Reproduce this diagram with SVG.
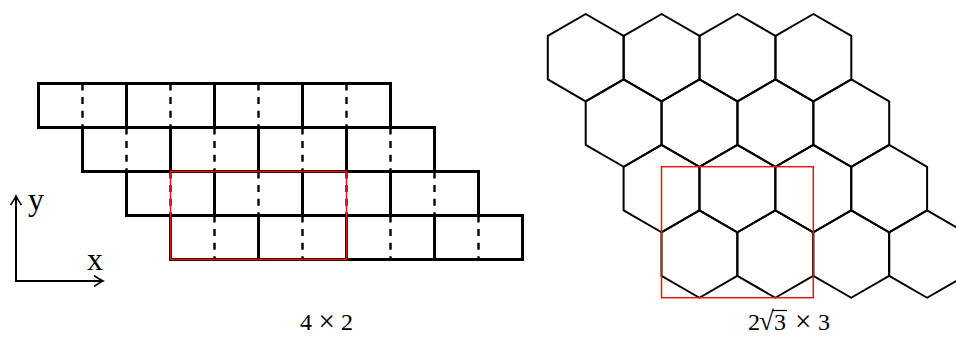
<svg xmlns="http://www.w3.org/2000/svg" width="956" height="337" viewBox="0 0 956 337">
<style>
.solid{stroke:#000;stroke-width:3;fill:none}
.dash{stroke:#000;stroke-width:2.4;fill:none;stroke-dasharray:7 6.6}
.hex{stroke:#000;stroke-width:2;fill:none;stroke-linejoin:round}
.red{stroke:#e8141b;stroke-width:1.5;fill:none}
.axis{stroke:#000;stroke-width:2;fill:none}
.lbl{font-family:"Liberation Serif","DejaVu Serif",serif;fill:#000}
.times{font-size:29px}
</style>
<defs>
<polygon id="h" class="hex" points="0,-43.65 37.9,-21.825 37.9,21.825 0,43.65 -37.9,21.825 -37.9,-21.825"/>
<marker id="arr" viewBox="-11 -7 13 14" refX="0" refY="0" markerWidth="13" markerHeight="14" markerUnits="userSpaceOnUse" orient="auto">
<path d="M-9,-5.5 Q-3,-1.3 0,0 Q-3,1.3 -9,5.5" fill="none" stroke="#000" stroke-width="1.6"/>
</marker>
</defs>
<g id="bricks">
<g id="row1">
<rect class="solid" x="38.5" y="83.5" width="352" height="44"/>
<path class="solid" d="M126.5,83.5V127.5M214.5,83.5V127.5M302.5,83.5V127.5"/>
<path class="dash" d="M82.5,83.5V127.5M170.5,83.5V127.5M258.5,83.5V127.5M346.5,83.5V127.5"/>
</g>
<g id="row2">
<rect class="solid" x="82.5" y="127.5" width="352" height="44"/>
<path class="solid" d="M170.5,127.5V171.5M258.5,127.5V171.5M346.5,127.5V171.5"/>
<path class="dash" d="M126.5,127.5V171.5M214.5,127.5V171.5M302.5,127.5V171.5M390.5,127.5V171.5"/>
</g>
<g id="row3">
<rect class="solid" x="126.5" y="171.5" width="352" height="44"/>
<path class="solid" d="M214.5,171.5V215.5M302.5,171.5V215.5M390.5,171.5V215.5"/>
<path class="dash" d="M170.5,171.5V215.5M258.5,171.5V215.5M346.5,171.5V215.5M434.5,171.5V215.5"/>
</g>
<g id="row4">
<rect class="solid" x="170.5" y="215.5" width="352" height="44"/>
<path class="solid" d="M258.5,215.5V259.5M346.5,215.5V259.5M434.5,215.5V259.5"/>
<path class="dash" d="M214.5,215.5V259.5M302.5,215.5V259.5M390.5,215.5V259.5M478.5,215.5V259.5"/>
</g>
<rect id="cell-left" class="red" x="170.5" y="171.5" width="176" height="88"/>
</g>
<g id="axes">
<path class="axis" d="M16,281V196" marker-end="url(#arr)"/>
<path class="axis" d="M15,281H103" marker-end="url(#arr)"/>
<text class="lbl" x="28" y="210" font-size="32">y</text>
<text class="lbl" x="87" y="270" font-size="32">x</text>
</g>
<g id="hexes">
<use id="h00" href="#h" x="585.7" y="57.65"/>
<use id="h01" href="#h" x="661.6" y="57.65"/>
<use id="h02" href="#h" x="737.5" y="57.65"/>
<use id="h03" href="#h" x="813.4" y="57.65"/>
<use id="h10" href="#h" x="623.6" y="123.1"/>
<use id="h11" href="#h" x="699.5" y="123.1"/>
<use id="h12" href="#h" x="775.4" y="123.1"/>
<use id="h13" href="#h" x="851.3" y="123.1"/>
<use id="h20" href="#h" x="661.5" y="188.6"/>
<use id="h21" href="#h" x="737.4" y="188.6"/>
<use id="h22" href="#h" x="813.3" y="188.6"/>
<use id="h23" href="#h" x="889.2" y="188.6"/>
<use id="h30" href="#h" x="699.4" y="254.1"/>
<use id="h31" href="#h" x="775.3" y="254.1"/>
<use id="h32" href="#h" x="851.2" y="254.1"/>
<use id="h33" href="#h" x="927.1" y="254.1"/>
<rect id="cell-right" class="red" x="661.5" y="166.7" width="151.8" height="131"/>
</g>
<g id="labels">
<text class="lbl" font-size="24" y="330"><tspan x="300">4</tspan><tspan x="318.5" y="331" class="times">×</tspan><tspan x="341" y="330">2</tspan></text>
<text class="lbl" font-size="24" y="330"><tspan x="748">2</tspan><tspan x="759" font-size="27">√</tspan><tspan x="774">3</tspan><tspan x="795" y="331" class="times">×</tspan><tspan x="818" y="330">3</tspan></text>
<line x1="772" y1="310.5" x2="787" y2="310.5" stroke="#000" stroke-width="1.2"/>
</g>
</svg>
